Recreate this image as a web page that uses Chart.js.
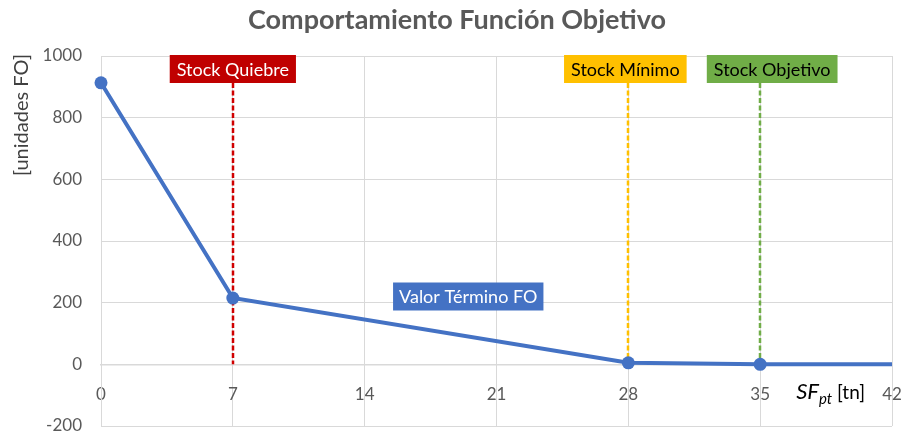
<!DOCTYPE html>
<html><head><meta charset="utf-8">
<script src="https://cdn.jsdelivr.net/npm/chart.js@4"></script>
<style>html,body{margin:0;padding:0;background:#fff;}canvas{display:block}</style>
</head><body>
<canvas id="c" width="905" height="437"></canvas>
<script>
// ---- data ----
const xValues = [0, 7, 28, 35, 42];
const foValues = [913, 215, 5, 0, 0];
const markerShown = [true, true, true, true, false];
const xTicks = [0, 7, 14, 21, 28, 35, 42];
const yTicks = [-200, 0, 200, 400, 600, 800, 1000];
const refValues = [7, 28, 35];
const refLabels = ['Stock Quiebre', 'Stock Mínimo', 'Stock Objetivo'];
const seriesLabel = 'Valor Término FO';
const seriesLabelAt = [19.5, 220];
const titleText = 'Comportamiento Función Objetivo';
const yTitle = '[unidades FO]';
const xTitleMain = 'SF';
const xTitleSub = 'pt';
const xTitleUnit = ' [tn]';

// ---- styles ----
const FONT = 'Lato, "Open Sans", sans-serif';
const refColors = ['#C00000', '#FFC000', '#70AD47'];
const refLineColors = ['#D00000', '#FFC000', '#70AD47'];
const refTextColors = ['#FFFFFF', '#000000', '#000000'];
const refShift = [0, -3, 12];
const blue = '#4472C4';
const gridColor = '#D9D9D9';
const tickColor = '#595959';

const overlay = {
  id: 'overlay',
  beforeDatasetsDraw(chart) {
    const {ctx, chartArea, scales: {x, y}} = chart;
    ctx.save();
    ctx.lineWidth = 2.5;
    ctx.setLineDash([5, 2.5]);
    refValues.forEach((v, i) => {
      const px = Math.round(x.getPixelForValue(v));
      ctx.strokeStyle = refLineColors[i];
      ctx.beginPath();
      ctx.moveTo(px, chartArea.top + 27);
      ctx.lineTo(px, y.getPixelForValue(0));
      ctx.stroke();
    });
    ctx.restore();
  },
  afterDatasetsDraw(chart) {
    const {ctx, chartArea, scales: {x, y}} = chart;
    ctx.save();
    ctx.font = '18px ' + FONT;
    ctx.textAlign = 'center';
    ctx.textBaseline = 'middle';
    const bh = 28;
    refValues.forEach((v, i) => {
      const cx = x.getPixelForValue(v) + refShift[i];
      const w = ctx.measureText(refLabels[i]).width + 14;
      const top = chartArea.top - 1;
      ctx.fillStyle = refColors[i];
      ctx.fillRect(cx - w / 2, top, w, bh);
      ctx.fillStyle = refTextColors[i];
      ctx.fillText(refLabels[i], cx, top + bh / 2 + 1);
    });
    // series label
    const sx = x.getPixelForValue(seriesLabelAt[0]);
    const sy = y.getPixelForValue(seriesLabelAt[1]);
    const sw = ctx.measureText(seriesLabel).width + 12;
    ctx.fillStyle = blue;
    ctx.fillRect(sx - sw / 2, sy - 14, sw, 28);
    ctx.fillStyle = '#FFFFFF';
    ctx.fillText(seriesLabel, sx, sy + 1);
    // title
    ctx.font = 'bold 27px ' + FONT;
    ctx.fillStyle = '#595959';
    ctx.fillText(titleText, 457, 20);
    // y title
    ctx.save();
    ctx.translate(22, 115);
    ctx.rotate(-Math.PI / 2);
    ctx.font = '20px ' + FONT;
    ctx.fillStyle = '#404040';
    ctx.fillText(yTitle, 0, 0);
    ctx.restore();
    // x title
    ctx.textAlign = 'left';
    ctx.textBaseline = 'alphabetic';
    const bx = x.getPixelForValue(35) + 36;
    const by = y.getPixelForValue(0) + 35;
    ctx.fillStyle = '#000000';
    ctx.font = 'italic 22px ' + FONT;
    ctx.fillText(xTitleMain, bx, by);
    let cx2 = bx + ctx.measureText(xTitleMain).width;
    ctx.font = 'italic 15px ' + FONT;
    ctx.fillText(xTitleSub, cx2, by + 5);
    cx2 += ctx.measureText(xTitleSub).width;
    ctx.font = '19px ' + FONT;
    ctx.fillText(xTitleUnit, cx2, by);
    ctx.restore();
  }
};

new Chart(document.getElementById('c'), {
  type: 'line',
  data: {
    datasets: [{
      label: seriesLabel,
      data: xValues.map((v, i) => ({x: v, y: foValues[i]})),
      borderColor: blue,
      backgroundColor: blue,
      borderWidth: 4,
      pointRadius: markerShown.map(s => s ? 6.5 : 0),
      pointBorderWidth: 0,
      pointBackgroundColor: blue,
      tension: 0,
      clip: false
    }]
  },
  options: {
    responsive: false,
    devicePixelRatio: 1,
    animation: false,
    layout: {padding: {top: 56, right: 13, bottom: 11, left: 0}},
    plugins: {legend: {display: false}, title: {display: false}, tooltip: {enabled: false}},
    scales: {
      x: {
        type: 'linear',
        position: {y: 0},
        min: 0, max: 42,
        afterBuildTicks: s => { s.ticks = xTicks.map(v => ({value: v})); },
        afterFit: s => { s.height = 0; s.paddingLeft = 0; s.paddingRight = 0; s.paddingTop = 0; s.paddingBottom = 0; },
        grid: {color: gridColor, lineWidth: 1, drawTicks: false},
        border: {color: gridColor, width: 1.5},
        ticks: {color: tickColor, font: {family: FONT, size: 17}, padding: 20, maxRotation: 0, callback: v => String(v)}
      },
      y: {
        min: -200, max: 1000,
        afterBuildTicks: s => { s.ticks = yTicks.map(v => ({value: v})); },
        afterFit: s => { s.width = 101; s.paddingTop = 0; s.paddingBottom = 0; },
        grid: {color: gridColor, lineWidth: 1, drawTicks: false},
        border: {color: gridColor},
        ticks: {color: tickColor, font: {family: FONT, size: 17}, padding: 19, callback: v => String(v)}
      }
    }
  },
  plugins: [overlay]
});
</script>
</body></html>
